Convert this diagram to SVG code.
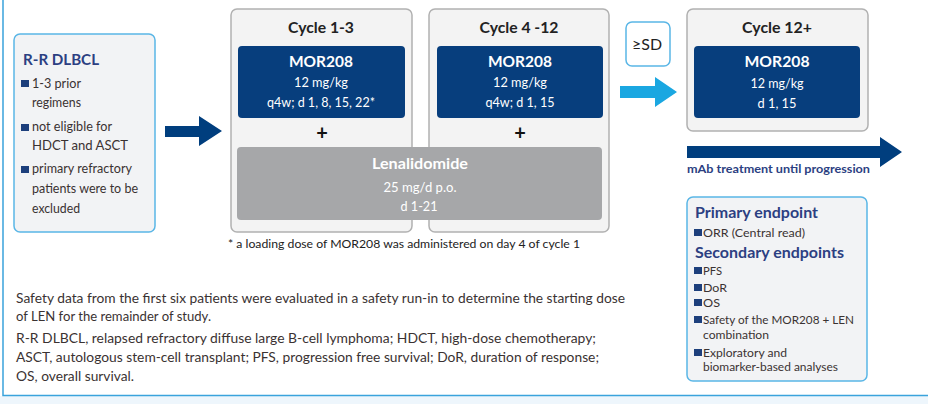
<svg xmlns="http://www.w3.org/2000/svg" width="928" height="404" viewBox="0 0 928 404">
<style>
text{font-family:Lato,"Liberation Sans",sans-serif}
.frame{fill:none;stroke:#3aa3dc;stroke-width:1.5}
.cyc{fill:#f3f3f3;stroke:#b1b1b1;stroke-width:1.5}
.info{fill:#f2f3f5;stroke:#5ab6e6;stroke-width:1.5}
.mor{fill:#073e7d}
.len{fill:#a6a7a9}
.ttl{font-size:15px;font-weight:bold;fill:#222;text-anchor:middle}
.wt{font-size:15px;font-weight:bold;fill:#fff;text-anchor:middle}
.ws{font-size:13px;fill:#fff;text-anchor:middle}
.hd{font-size:15.5px;font-weight:bold;fill:#2c3f82}
.bt{font-size:12.5px;fill:#3a3232}
.ep{font-size:11.5px;fill:#3a3232}
.bul{fill:#1d3f7c}
.plus{font-size:20px;font-weight:bold;fill:#111;text-anchor:middle}
.note{font-size:13px;fill:#3a3232}
</style>
<rect x="0" y="396" width="928" height="8" fill="#eef6fc"/>
<path class="frame" d="M3,0 V395.5 H928"/>

<g id="connectors">
<polygon fill="#003e7e" points="165,126 199,126 199,116 222,131 199,146 199,137 165,137"/>
<polygon fill="#1aa7e1" points="620,86 655,86 655,77 677,92 655,107 655,98 620,98"/>
<polygon fill="#003e7e" points="687,146 880,146 880,137 902,152 880,167 880,158 687,158"/>
<text x="687" y="173" font-size="12px" font-weight="bold" fill="#2c3f82" textLength="183" lengthAdjust="spacingAndGlyphs">mAb treatment until progression</text>
</g>

<g id="population">
<rect class="info" x="14" y="34" width="141" height="198" rx="6"/>
<text class="hd" x="23" y="65" textLength="76" lengthAdjust="spacingAndGlyphs">R-R DLBCL</text>
<rect class="bul" x="21" y="80" width="8" height="7"/>
<text class="bt" x="32" y="88" textLength="49" lengthAdjust="spacingAndGlyphs">1-3 prior</text>
<text class="bt" x="32" y="107" textLength="49" lengthAdjust="spacingAndGlyphs">regimens</text>
<rect class="bul" x="21" y="124" width="8" height="7"/>
<text class="bt" x="32" y="131" textLength="80" lengthAdjust="spacingAndGlyphs">not eligible for</text>
<text class="bt" x="32" y="150" textLength="96" lengthAdjust="spacingAndGlyphs">HDCT and ASCT</text>
<rect class="bul" x="21" y="166" width="8" height="7"/>
<text class="bt" x="32" y="173" textLength="100" lengthAdjust="spacingAndGlyphs">primary refractory</text>
<text class="bt" x="32" y="193" textLength="106" lengthAdjust="spacingAndGlyphs">patients were to be</text>
<text class="bt" x="32" y="213" textLength="48" lengthAdjust="spacingAndGlyphs">excluded</text>
</g>

<g id="cycle1-3">
<rect class="cyc" x="231" y="9" width="181" height="223" rx="6"/>
<text class="ttl" x="321" y="33" textLength="66" lengthAdjust="spacingAndGlyphs">Cycle 1-3</text>
<rect class="mor" x="238" y="46" width="167" height="72" rx="4"/>
<text class="wt" x="321" y="67" textLength="64" lengthAdjust="spacingAndGlyphs">MOR208</text>
<text class="ws" x="321" y="87" textLength="54" lengthAdjust="spacingAndGlyphs">12 mg/kg</text>
<text class="ws" x="321" y="107" textLength="108" lengthAdjust="spacingAndGlyphs">q4w; d 1, 8, 15, 22*</text>
<text class="plus" x="322" y="140">+</text>
</g>

<g id="cycle4-12">
<rect class="cyc" x="429" y="9" width="180" height="223" rx="6"/>
<text class="ttl" x="519" y="33" textLength="79" lengthAdjust="spacingAndGlyphs">Cycle 4 -12</text>
<rect class="mor" x="437" y="46" width="166" height="72" rx="4"/>
<text class="wt" x="520" y="67" textLength="64" lengthAdjust="spacingAndGlyphs">MOR208</text>
<text class="ws" x="520" y="87" textLength="54" lengthAdjust="spacingAndGlyphs">12 mg/kg</text>
<text class="ws" x="520" y="107" textLength="69" lengthAdjust="spacingAndGlyphs">q4w; d 1, 15</text>
<text class="plus" x="520" y="140">+</text>
</g>

<g id="lenalidomide">
<rect class="len" x="237" y="147" width="365" height="73" rx="4"/>
<text class="wt" x="420" y="169" textLength="96" lengthAdjust="spacingAndGlyphs">Lenalidomide</text>
<text class="ws" x="420" y="192" textLength="73" lengthAdjust="spacingAndGlyphs">25 mg/d p.o.</text>
<text class="ws" x="419" y="211" textLength="37" lengthAdjust="spacingAndGlyphs">d 1-21</text>
</g>

<text x="228" y="248" font-size="12px" fill="#222" textLength="352" lengthAdjust="spacingAndGlyphs">* a loading dose of MOR208 was administered on day 4 of cycle 1</text>

<g id="sd">
<rect x="626" y="22" width="44" height="44" rx="6" fill="#fff" stroke="#5ab6e6" stroke-width="1.5"/>
<text x="647" y="50" font-size="15px" fill="#222" text-anchor="middle" textLength="30" lengthAdjust="spacingAndGlyphs">≥SD</text>
</g>

<g id="cycle12plus">
<rect class="cyc" x="687" y="9" width="181" height="122" rx="6"/>
<text class="ttl" x="777" y="33" textLength="70" lengthAdjust="spacingAndGlyphs">Cycle 12+</text>
<rect class="mor" x="694" y="46" width="166" height="72" rx="4"/>
<text class="wt" x="777" y="67" textLength="65" lengthAdjust="spacingAndGlyphs">MOR208</text>
<text class="ws" x="777" y="88" textLength="53" lengthAdjust="spacingAndGlyphs">12 mg/kg</text>
<text class="ws" x="777" y="108" textLength="39" lengthAdjust="spacingAndGlyphs">d 1, 15</text>
</g>

<g id="endpoints">
<rect class="info" x="687" y="197" width="180" height="184" rx="6"/>
<text class="hd" x="695" y="218" textLength="123" lengthAdjust="spacingAndGlyphs">Primary endpoint</text>
<rect class="bul" x="694" y="229" width="8" height="7"/>
<text class="ep" x="703" y="237" textLength="102" lengthAdjust="spacingAndGlyphs">ORR (Central read)</text>
<text class="hd" x="695" y="258" textLength="149" lengthAdjust="spacingAndGlyphs">Secondary endpoints</text>
<rect class="bul" x="694" y="267" width="8" height="7"/>
<text class="ep" x="703" y="275" textLength="19" lengthAdjust="spacingAndGlyphs">PFS</text>
<rect class="bul" x="694" y="284" width="8" height="7"/>
<text class="ep" x="703" y="292" textLength="24" lengthAdjust="spacingAndGlyphs">DoR</text>
<rect class="bul" x="694" y="299" width="8" height="7"/>
<text class="ep" x="703" y="307" textLength="17" lengthAdjust="spacingAndGlyphs">OS</text>
<rect class="bul" x="694" y="316" width="8" height="7"/>
<text class="ep" x="703" y="324" textLength="151" lengthAdjust="spacingAndGlyphs">Safety of the MOR208 + LEN</text>
<text class="ep" x="703" y="339" textLength="66" lengthAdjust="spacingAndGlyphs">combination</text>
<rect class="bul" x="694" y="349" width="8" height="7"/>
<text class="ep" x="703" y="357" textLength="84" lengthAdjust="spacingAndGlyphs">Exploratory and</text>
<text class="ep" x="703" y="371" textLength="135" lengthAdjust="spacingAndGlyphs">biomarker-based analyses</text>
</g>

<g id="notes">
<text class="note" x="16" y="303" textLength="609" lengthAdjust="spacingAndGlyphs">Safety data from the first six patients were evaluated in a safety run-in to determine the starting dose</text>
<text class="note" x="16" y="321" textLength="195" lengthAdjust="spacingAndGlyphs">of LEN for the remainder of study.</text>
<text class="note" x="16" y="343" textLength="580" lengthAdjust="spacingAndGlyphs">R-R DLBCL, relapsed refractory diffuse large B-cell lymphoma; HDCT, high-dose chemotherapy;</text>
<text class="note" x="16" y="362" textLength="583" lengthAdjust="spacingAndGlyphs">ASCT, autologous stem-cell transplant; PFS, progression free survival; DoR, duration of response;</text>
<text class="note" x="16" y="381" textLength="118" lengthAdjust="spacingAndGlyphs">OS, overall survival.</text>
</g>
</svg>
